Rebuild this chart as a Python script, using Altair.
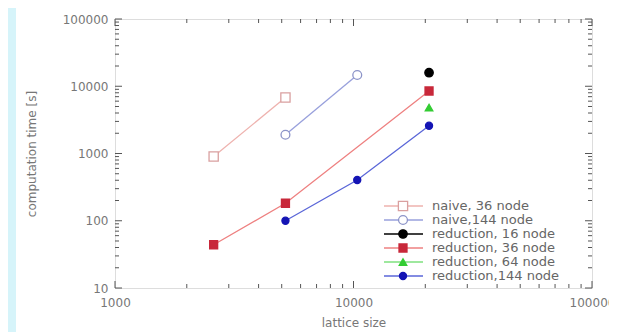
import altair as alt
import pandas as pd

# ---- data ----
series = ["naive, 36 node", "naive,144 node", "reduction, 16 node",
          "reduction, 36 node", "reduction, 64 node", "reduction,144 node"]

naive36_x = [2592, 5184]
naive36_y = [900, 6800]
naive144_x = [5184, 10368]
naive144_y = [1900, 14700]
red16_x = [20736]
red16_y = [15900]
red36_x = [2592, 5184, 20736]
red36_y = [44, 182, 8500]
red64_x = [20736]
red64_y = [4800]
red144_x = [5184, 10368, 20736]
red144_y = [100, 404, 2590]

x_ticks = [1000, 10000, 100000]
y_ticks = [10, 100, 1000, 10000, 100000]

# ---- styles ----
line_colors = ["#eeb2ae", "#98a0dc", "#000000", "#ee8080", "#7ee07e", "#5a66d8"]
marker_stroke = ["#d9a0a0", "#8c94c8", "#000000", "#c8283a", "#33cc33", "#1414b4"]
marker_fill = ["#ffffff", "#ffffff", "#000000", "#c8283a", "#33cc33", "#1414b4"]
shapes = ["square", "circle", "circle", "square", "triangle-up", "circle"]
sizes = [85, 50, 95, 95, 55, 60]

xs_list = [naive36_x, naive144_x, red16_x, red36_x, red64_x, red144_x]
ys_list = [naive36_y, naive144_y, red16_y, red36_y, red64_y, red144_y]
rows = []
for name, xs, ys in zip(series, xs_list, ys_list):
    for xv, yv in zip(xs, ys):
        rows.append({"series": name, "size": xv, "time": yv})
df = pd.DataFrame(rows)

x_major = x_ticks
x_minor = [m * d for d in [1000, 10000] for m in range(2, 10)]
y_major = y_ticks
y_minor = [m * d for d in [10, 100, 1000, 10000] for m in range(2, 10)]
xmaj_df = pd.DataFrame({"size": x_major})
xmin_df = pd.DataFrame({"size": x_minor})
ymaj_df = pd.DataFrame({"time": y_major})
ymin_df = pd.DataFrame({"time": y_minor})
leg_df = pd.DataFrame({"series": series, "row": list(range(len(series)))})
band_df = pd.DataFrame({"band": ["left"]})

W, H = 477, 269
PAD = {"left": 107, "top": 11, "right": 17, "bottom": 44}
FONT = "DejaVu Sans"
xscale = alt.Scale(type="log", domain=[1000, 100000], nice=False)
yscale = alt.Scale(type="log", domain=[10, 100000], nice=False)
cscale = alt.Scale(domain=series, range=line_colors)
sh = alt.Shape("series:N", scale=alt.Scale(domain=series, range=shapes), legend=None)
fl = alt.Fill("series:N", scale=alt.Scale(domain=series, range=marker_fill), legend=None)
st = alt.Stroke("series:N", scale=alt.Scale(domain=series, range=marker_stroke), legend=None)
sz = alt.Size("series:N", scale=alt.Scale(domain=series, range=sizes), legend=None)

xax = alt.Axis(values=x_ticks, format="d", ticks=False, domain=False, grid=False,
               labelFlush=False, labelPadding=9, labelFontSize=12, labelFont=FONT,
               labelColor="#777", title="lattice size", titleFont=FONT,
               titleFontSize=12, titleFontWeight="normal", titleColor="#777",
               titlePadding=9)
yax = alt.Axis(values=y_ticks, format="d", ticks=False, domain=False, grid=False,
               labelFlush=False, labelPadding=7, labelFontSize=12, labelFont=FONT,
               labelColor="#777", title="computation time [s]", titleFont=FONT,
               titleFontSize=12, titleFontWeight="normal", titleColor="#777",
               titlePadding=24)

X = alt.X("size:Q", scale=xscale, axis=xax, title="lattice size")
Y = alt.Y("time:Q", scale=yscale, axis=None)

# light-cyan strip at the left edge of the page (decoration only)
band = alt.Chart(band_df).mark_rect(color="#d6f4fa").encode(
    x=alt.value(-PAD["left"]), x2=alt.value(-PAD["left"] + 8),
    y=alt.value(-PAD["top"]), y2=alt.value(H + PAD["bottom"]))

lines = alt.Chart(df).mark_line(strokeWidth=1.3).encode(
    x=X,
    y=alt.Y("time:Q", scale=yscale, axis=yax),
    color=alt.Color("series:N", scale=cscale, legend=None),
)
points = alt.Chart(df).mark_point(filled=True, opacity=1, strokeWidth=1.3).encode(
    x=X, y=Y, shape=sh, fill=fl, stroke=st, size=sz)

tick_col = "#555"
tks = []
for d, ln in [(xmaj_df, 7), (xmin_df, 4)]:
    tks.append(alt.Chart(d).mark_rule(color=tick_col, strokeWidth=1).encode(
        x=X, y=alt.value(H), y2=alt.value(H - ln)))
    tks.append(alt.Chart(d).mark_rule(color=tick_col, strokeWidth=1).encode(
        x=X, y=alt.value(0), y2=alt.value(ln)))
for d, ln in [(ymaj_df, 7), (ymin_df, 4)]:
    tks.append(alt.Chart(d).mark_rule(color=tick_col, strokeWidth=1).encode(
        y=Y, x=alt.value(0), x2=alt.value(ln)))
    tks.append(alt.Chart(d).mark_rule(color=tick_col, strokeWidth=1).encode(
        y=Y, x=alt.value(W), x2=alt.value(W - ln)))

legy = alt.Y("row:Q", scale=alt.Scale(domain=[0, 5], range=[187, 257]), axis=None)
leg_lines = alt.Chart(leg_df).mark_rule(strokeWidth=1.3).encode(
    x=alt.value(269), x2=alt.value(308), y=legy,
    color=alt.Color("series:N", scale=cscale, legend=None))
leg_points = alt.Chart(leg_df).mark_point(filled=True, opacity=1, strokeWidth=1.3).encode(
    x=alt.value(288), y=legy, shape=sh, fill=fl, stroke=st, size=sz)
leg_text = alt.Chart(leg_df).mark_text(align="left", baseline="middle", fontSize=13,
                                       font=FONT, color="#666").encode(
    x=alt.value(317), y=legy, text="series:N")

chart = alt.layer(band, lines, *tks, points, leg_lines, leg_points, leg_text).resolve_scale(
    y="independent"
).properties(
    width=W, height=H,
    autosize=alt.AutoSizeParams(type="none"),
    padding=PAD,
).configure_view(stroke="#555", strokeWidth=1.5).configure(background="white")

chart.save("out.html", embed_options={"renderer": "svg", "actions": False})
